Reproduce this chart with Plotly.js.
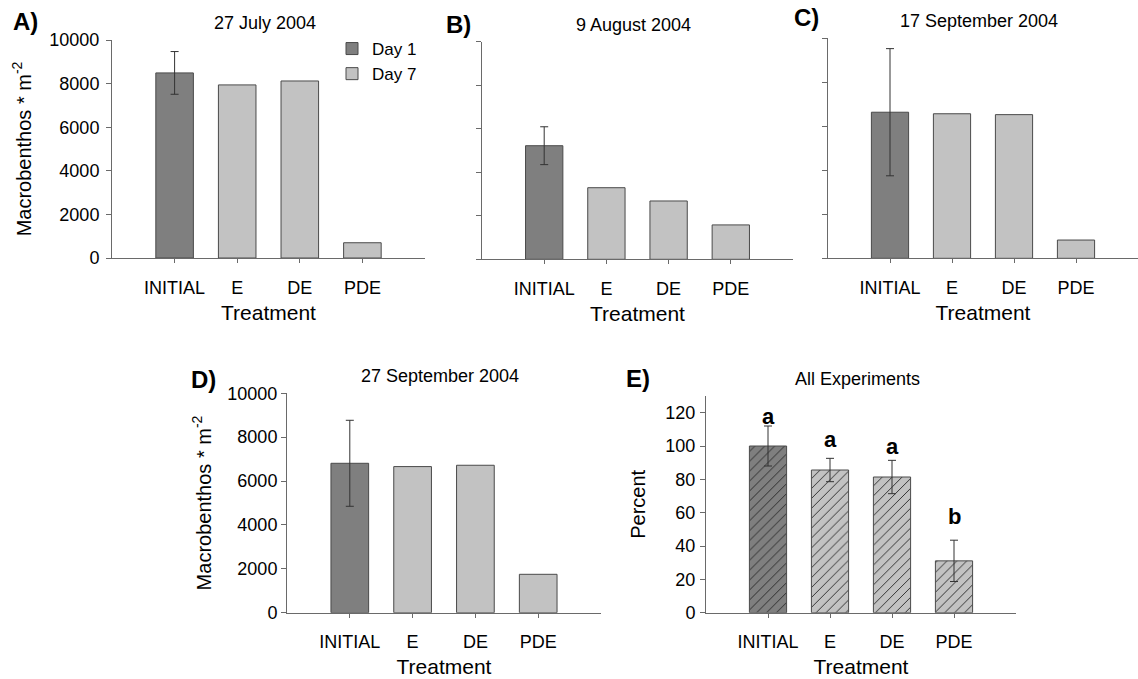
<!DOCTYPE html>
<html>
<head>
<meta charset="utf-8">
<script src="https://cdn.plot.ly/plotly-3.0.1.min.js"></script>
<style>
  html, body { margin: 0; padding: 0; background: #ffffff; }
  #chart { width: 1138px; height: 679px; }
</style>
</head>
<body>
<div id="chart"></div>
<script>
// ---------------- data ----------------
const categories = ['INITIAL', 'E', 'DE', 'PDE'];
const seriesNames = ['Day 1', 'Day 7'];

const july27 = [8490, 7940, 8120, 700];
const july27Err = 980;

const aug9 = [5220, 3290, 2680, 1580];
const aug9Err = 870;

const sep17 = [6640, 6570, 6530, 830];
const sep17Err = 2890;

const sep27 = [6810, 6660, 6720, 1750];
const sep27Err = 1960;

const allPercent = [100, 85.6, 81.4, 31.1];
const allPercentErr = [12, 7, 10, 12.4];
const sigLetters = ['a', 'a', 'a', 'b'];
const sigLetterY = [118, 104, 100, 58];

const panelTitles = ['27 July 2004', '9 August 2004', '17 September 2004', '27 September 2004', 'All Experiments'];
const panelLetters = ['A)', 'B)', 'C)', 'D)', 'E)'];

// ---------------- styles ----------------
const W = 1138, H = 679;
const FONT = 'Liberation Sans, Arial, sans-serif';
const DARK = '#7f7f7f';
const LIGHT = '#c2c2c2';
const EDGE = '#4a4a4a';
const AXIS = '#6a6a6a';
const ERRC = '#333333';

// pixel boxes for each plot area [x0, x1, yTop, yBottom]
const boxes = [
  [112, 425, 40, 258],
  [482, 793, 41.7, 259.3],
  [828, 1139, 38.3, 258.3],
  [287, 601, 393.3, 612.7],
  [706, 1016, 396, 612.7]
];
const yTickStandoff = [3, 0, 0, 0, 1];
const yTitleStandoff = [12, 0, 0, 10, 14];
const px = v => v / W;
const py = v => 1 - v / H;

const traces = [];
const panelData = [
  [july27, july27Err],
  [aug9, aug9Err],
  [sep17, sep17Err],
  [sep27, sep27Err]
];

panelData.forEach((pd, i) => {
  const vals = pd[0], err = pd[1];
  const xa = i === 0 ? 'x' : 'x' + (i + 1);
  const ya = i === 0 ? 'y' : 'y' + (i + 1);
  traces.push({
    type: 'bar', name: seriesNames[0],
    x: [categories[0]], y: [vals[0]],
    xaxis: xa, yaxis: ya, width: 0.6,
    marker: { color: DARK, line: { color: EDGE, width: 1 } },
    error_y: { type: 'data', array: [err], visible: true, color: ERRC, thickness: 1, width: 4 },
    showlegend: i === 0, legendgroup: 'd1', hoverinfo: 'x+y'
  });
  traces.push({
    type: 'bar', name: seriesNames[1],
    x: categories.slice(1), y: vals.slice(1),
    xaxis: xa, yaxis: ya, width: 0.6,
    marker: { color: LIGHT, line: { color: EDGE, width: 1 } },
    showlegend: i === 0, legendgroup: 'd7', hoverinfo: 'x+y'
  });
});

// Panel E with hatching (initial + treatments)
traces.push({
  type: 'bar', name: seriesNames[0],
  x: [categories[0]], y: [allPercent[0]],
  xaxis: 'x5', yaxis: 'y5', width: 0.6,
  marker: {
    color: DARK,
    line: { color: EDGE, width: 1 },
    pattern: { shape: '/', fillmode: 'replace', bgcolor: DARK, fgcolor: '#262626', fgopacity: 1, size: 7, solidity: 0.13 }
  },
  error_y: { type: 'data', array: [allPercentErr[0]], visible: true, color: ERRC, thickness: 1, width: 4 },
  showlegend: false, hoverinfo: 'x+y'
});
traces.push({
  type: 'bar', name: seriesNames[1],
  x: categories.slice(1), y: allPercent.slice(1),
  xaxis: 'x5', yaxis: 'y5', width: 0.6,
  marker: {
    color: LIGHT,
    line: { color: EDGE, width: 1 },
    pattern: { shape: '/', fillmode: 'replace', bgcolor: LIGHT, fgcolor: '#262626', fgopacity: 1, size: 7, solidity: 0.13 }
  },
  error_y: { type: 'data', array: allPercentErr.slice(1), visible: true, color: ERRC, thickness: 1, width: 4 },
  showlegend: false, hoverinfo: 'x+y'
});

const layout = {
  width: W, height: H,
  margin: { l: 0, r: 0, t: 0, b: 0 },
  paper_bgcolor: '#ffffff', plot_bgcolor: '#ffffff',
  barmode: 'overlay',
  font: { family: FONT, color: '#000000', size: 17 },
  showlegend: true,
  legend: {
    x: px(332), y: py(31), xanchor: 'left', yanchor: 'top',
    bgcolor: 'rgba(0,0,0,0)', font: { size: 17, family: FONT },
    tracegroupgap: 0, itemwidth: 30, traceorder: 'normal'
  },
  annotations: [],
  shapes: []
};

const ymax = [10000, 10000, 10000, 10000, 130];
boxes.forEach((b, i) => {
  const k = i === 0 ? '' : String(i + 1);
  layout['xaxis' + k] = {
    domain: [px(b[0]), Math.min(1, px(b[1]))],
    anchor: 'y' + k,
    type: 'category',
    categoryorder: 'array', categoryarray: categories,
    range: [-1, 4],
    showline: true, linecolor: AXIS, linewidth: 1,
    ticks: 'outside', ticklen: 4, tickcolor: AXIS,
    ticklabelstandoff: 9,
    tickfont: { size: 18, family: FONT, color: '#000' },
    showgrid: false, zeroline: false, fixedrange: true,
    title: { text: 'Treatment', font: { size: 21, family: FONT, color: '#000' }, standoff: 8 }
  };
  const showLabels = !(i === 1 || i === 2);
  layout['yaxis' + k] = {
    domain: [py(b[3]), py(b[2])],
    anchor: 'x' + k,
    range: [0, ymax[i]],
    tickmode: 'linear', tick0: 0, dtick: i === 4 ? 20 : 2000,
    tickformat: 'd',
    showline: true, linecolor: AXIS, linewidth: 1,
    ticks: 'outside', ticklen: 5, tickcolor: AXIS,
    ticklabelstandoff: yTickStandoff[i],
    showticklabels: showLabels,
    tickfont: { size: 18, family: FONT, color: '#000' },
    showgrid: false, zeroline: false, fixedrange: true
  };
  if (i === 0 || i === 3) {
    layout['yaxis' + k].title = { text: 'Macrobenthos * m<sup>-2</sup>', font: { size: 20, family: FONT, color: '#000' }, standoff: yTitleStandoff[i] };
  }
  if (i === 4) {
    layout['yaxis' + k].title = { text: 'Percent', font: { size: 20, family: FONT, color: '#000' }, standoff: yTitleStandoff[i] };
  }
  // subplot title
  layout.annotations.push({
    xref: 'paper', yref: 'paper',
    x: px((b[0] + Math.min(b[1], W)) / 2 - 4), y: py(b[2] - 17),
    xanchor: 'center', yanchor: 'middle', showarrow: false,
    text: panelTitles[i], font: { size: 18, family: FONT, color: '#000' }
  });
});

// panel letters
const letterPos = [[11, 22], [444, 25], [792, 17], [189, 379], [624, 378]];
letterPos.forEach((p, i) => {
  layout.annotations.push({
    xref: 'paper', yref: 'paper', x: px(p[0]), y: py(p[1]),
    xanchor: 'left', yanchor: 'middle', showarrow: false,
    text: '<b>' + panelLetters[i] + '</b>',
    font: { size: 24, family: FONT, color: '#000' }
  });
});

// significance letters in panel E
categories.forEach((c, i) => {
  layout.annotations.push({
    xref: 'x5', yref: 'y5', x: c, y: sigLetterY[i],
    xanchor: 'center', yanchor: 'middle', showarrow: false,
    text: '<b>' + sigLetters[i] + '</b>',
    font: { size: 22, family: FONT, color: '#000' }
  });
});

Plotly.newPlot('chart', traces, layout, { displayModeBar: false, staticPlot: true });
</script>
</body>
</html>
